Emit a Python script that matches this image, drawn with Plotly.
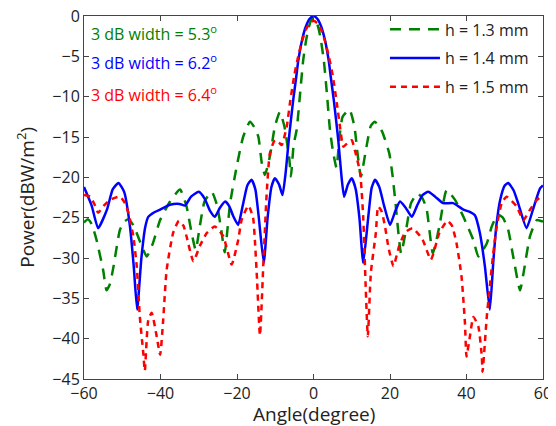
import plotly.graph_objects as go

# h = 1.4 mm (blue, solid)
ang_14 = [-60, -58, -56.3, -54, -52.5, -51.0, -49.5, -48, -47, -46.1, -45, -44, -43.2, -41.5, -40.1,
          -37.5, -35, -33.6, -32, -30.0, -28.5, -27, -25.8, -24.5, -23.1, -22, -21, -19.7, -18.5,
          -17.3, -16.2, -15.2, -14.3, -13.0, -12, -11, -10.1, -9, -8.1, -7.3, -6.5, -6.0, -5.3,
          -4.5, -4.0, -3.0, -2.0, -1.0, 0,
          1, 2, 3, 4, 4.5, 5.3, 6.0, 6.5, 7.3, 8.0, 9, 10.0, 11, 12, 13, 14.3, 15.2, 16.1, 17.2,
          18.5, 20.0, 21.3, 22.6, 24, 25.7, 27, 28.5, 30.0, 31.8, 33.9, 36.5, 39.2, 41, 42.2, 43.5,
          44.8, 46.1, 47, 47.8, 48.8, 50.0, 50.9, 52.3, 53.5, 55.7, 57.5, 59.2, 60]
pow_14 = [-21.2, -23.5, -26.3, -24.0, -21.5, -20.7, -21.8, -26, -31, -36.4, -30, -26.2, -24.9, -24.3, -24.0,
          -23.4, -23.3, -23.5, -22.4, -21.8, -22.6, -24.2, -24.9, -23.8, -23.0, -23.6, -24.8, -25.9, -23.5,
          -21.0, -20.3, -21.5, -25, -30.6, -25, -21.2, -20.1, -20.9, -22.2, -19.5, -15.5, -13.3, -10.4,
          -7.5, -5.6, -3.0, -1.3, -0.35, 0,
          -0.35, -1.3, -3.0, -5.6, -7.5, -10.4, -13.3, -15.5, -19.8, -22.4, -20.9, -20.1, -21.4, -25, -30.6, -25, -21.3, -20.3, -21.2,
          -23.6, -25.9, -24.3, -23.0, -23.7, -24.9, -23.6, -22.2, -21.8, -22.4, -23.2, -23.2, -24.0, -24.3, -24.7, -26.9,
          -31, -36.4, -30.5, -26, -22.8, -21.0, -20.7, -21.6, -23.2, -26.3, -23.8, -21.4, -21.0]

# h = 1.3 mm (green, dashed)
ang_13 = [-60, -59, -58, -56.7, -55.0, -54.1, -53.2, -52.3, -50.6, -49.5, -48.4, -47, -45.5, -43.6, -42,
          -40.1, -37.5, -34.9, -33.2, -31.9, -30.8, -29.7, -28.5, -26.6, -25.2, -24.0, -23.2, -21.8,
          -20.1, -18.4, -16.6, -15.2, -14.4, -13.5, -12.7, -11.4, -10.1, -8.8, -7.6, -6.3, -5.9, -5.2,
          -4.4, -3.5, -2.7, -2.0, -1.4, -0.7, 0,
          0.7, 1.4, 2.0, 2.7, 3.5, 4.3, 5.0, 6.0, 6.8, 7.6, 9.4, 10.7, 11.5, 12.4, 13.7, 15.0, 16.0,
          17.2, 18.1, 19.8, 20.7, 21.4, 22.9, 24.2, 25.5, 27.2, 28.5, 29.6, 31.2, 32.9, 34.8, 37.0,
          39.2, 41.8, 43.1, 45.3, 46.6, 48.2, 49.5, 50.9, 52.2, 54.0, 54.9, 56.6, 58.4, 60]
pow_13 = [-25.6, -25.2, -25.8, -27.8, -31.5, -34.0, -33.2, -31.1, -26.5, -25.5, -25.2, -26, -27.8, -29.8, -28.2,
          -25.3, -23.0, -21.5, -23.6, -26.8, -29.0, -26, -23, -21.8, -23.5, -26.9, -29.3, -23.2,
          -18.7, -15.0, -13.1, -14.0, -15.0, -18.3, -19.7, -17.4, -13.7, -11.9, -13.7, -17.8, -19.9, -16,
          -14.1, -9.6, -5.5, -3.2, -1.7, -0.6, -0.2,
          -0.6, -1.7, -3.2, -5.5, -9.6, -14.1, -16.5, -18.8, -15, -12.5, -11.6, -13.7, -17.0, -19.9, -16.6, -13.6, -13.1,
          -13.7, -14.5, -17.0, -19.9, -23, -29.4, -26.5, -23.2, -22.0, -22.6, -24.0, -29.4, -26.1, -21.6, -22.8,
          -24.9, -27.8, -29.8, -28.2, -26.1, -24.6, -25, -26.5, -29.8, -34.0, -31.9, -27.3, -25.3, -25.5]

# h = 1.5 mm (red, short dashes)
ang_15 = [-60, -58.4, -57.3, -56.3, -54.8, -53.2, -50.6, -49.3, -48.4, -47.1, -46.2, -45.4, -44.5, -44.1,
          -43.2, -42.3, -41.0, -40.1, -39.3, -38.4, -36.7, -35.2, -34, -33.2, -31.4, -29.7, -27.9, -25.8,
          -23.6, -21.4, -19.7, -18.8, -17.0, -15.8, -15.3, -14.8, -14.0, -13.1, -12.7, -12.3, -11.4, -10.1,
          -9, -8.3, -7.0, -6.1, -5.0, -4.0, -3.0, -2.0, -1.0, 0,
          1.0, 2.0, 3.0, 4.0, 5.0, 6.1, 7.0, 7.8, 8.8, 10.0, 10.8, 12.2, 13.0, 13.6, 14.2, 15.0, 16.3, 16.9,
          17.8, 18.7, 19.6, 20.9, 22.4, 24, 25.9, 28.5, 30.7, 32.9, 35.0, 36.2, 37.4, 38.7, 39.6, 40.0,
          40.9, 41.8, 43.1, 44.0, 44.2, 45.3, 46.1, 47.0, 47.9, 49.2, 50.5, 53.1, 54.9, 56.6, 58.4, 60]
pow_15 = [-22.2, -22.4, -23.3, -24.4, -23.5, -22.8, -22.4, -23.2, -24.4, -27.3, -31.1, -37.3, -41.8, -44.0,
          -37.7, -36.8, -39.7, -42.0, -37.7, -31.5, -26.9, -25.4, -26, -27.3, -30.4, -28.5, -26.9, -26.1,
          -27.3, -30.8, -27.8, -25.3, -23.5, -25, -28, -32.3, -39.6, -30.6, -26.5, -22.5, -17.0, -15.4,
          -15.7, -16.0, -13.7, -10.6, -7.3, -5.0, -3.1, -1.7, -0.9, -0.6,
          -0.9, -1.7, -3.1, -5.0, -7.3, -10.8, -14.0, -16.2, -15.8, -15.4, -16.6, -19.5, -25, -33, -39.7, -31.8, -26.9, -23.6,
          -24.2, -26.1, -28.7, -31.0, -28.5, -26.8, -26.3, -27.7, -30.2, -26.9, -25.4, -26, -28.2, -32.3, -38.1, -42.2,
          -39.7, -37.3, -38.5, -42.2, -44.1, -37.3, -33.5, -29.4, -26.1, -23.2, -22.4, -23.6, -25.3, -24.0, -22.8, -22.2]

x_ticks = [-60, -40, -20, 0, 20, 40, 60]
y_ticks = [0, -5, -10, -15, -20, -25, -30, -35, -40, -45]
widths = ["5.3", "6.2", "6.4"]
x_title = "Angle(degree)"
y_title = "Power(dBW/m<sup>2</sup>)"

GREEN = "rgb(0,128,0)"
BLUE = "rgb(0,0,255)"
RED = "rgb(255,0,0)"
FONT = "Open Sans"

fig = go.Figure()
fig.add_trace(go.Scatter(x=ang_13, y=pow_13, mode="lines", name="h = 1.3 mm", legendgroup="a",
                         line=dict(color=GREEN, width=2.5, dash="11px,8px", shape="spline", smoothing=0.5)))
fig.add_trace(go.Scatter(x=ang_14, y=pow_14, mode="lines", name="h = 1.4 mm", legendgroup="b",
                         line=dict(color=BLUE, width=2.5, shape="spline", smoothing=0.5)))
fig.add_trace(go.Scatter(x=ang_15, y=pow_15, mode="lines", name="h = 1.5 mm", legendgroup="c",
                         line=dict(color=RED, width=2.5, dash="6px,5px", shape="spline", smoothing=0.5)))

for i, (w, c) in enumerate(zip(widths, [GREEN, BLUE, RED])):
    fig.add_annotation(x=0.0105, xref="paper", y=[0.952, 0.873, 0.786][i], yref="paper",
                       text=f"3 dB width = {w}<sup>o</sup>", showarrow=False,
                       xanchor="left", yanchor="middle", font=dict(color=c, size=16, family=FONT))

# axis titles
fig.add_annotation(x=0.5, xref="paper", y=-0.096, yref="paper", text=x_title, showarrow=False,
                   xanchor="center", yanchor="middle", font=dict(size=19, color="#222", family=FONT))
fig.add_annotation(x=-0.128, xref="paper", y=0.5, yref="paper", text=y_title, showarrow=False,
                   textangle=-90, xanchor="center", yanchor="middle",
                   font=dict(size=19, color="#222", family=FONT))

axis_common = dict(showline=True, linecolor="#444", linewidth=1, mirror="ticks", ticks="inside",
                   ticklen=5, tickcolor="#444", showgrid=False, zeroline=False,
                   ticklabeloverflow="allow",
                   tickfont=dict(size=16, color="#222", family=FONT))

fig.update_layout(
    width=556, height=426,
    margin=dict(l=76, r=21, t=8, b=55, autoexpand=False),
    paper_bgcolor="white", plot_bgcolor="white",
    xaxis=dict(range=[-60, 60], tickvals=x_ticks, ticktext=[str(v).replace("-", "\u2212") for v in x_ticks],
               automargin=False, **axis_common),
    yaxis=dict(range=[-45, 0], tickvals=y_ticks, ticktext=[str(v).replace("-", "\u2212") for v in y_ticks],
               automargin=False, **axis_common),
    legend=dict(x=0.6557, y=1.01, xanchor="left", yanchor="top", bgcolor="rgba(0,0,0,0)",
                font=dict(size=16, color="#222", family=FONT), tracegroupgap=5, itemwidth=50),
    showlegend=True,
)

fig.write_html("out.html")
